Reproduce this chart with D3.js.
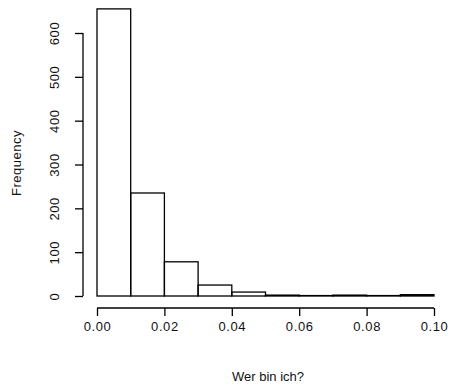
<!DOCTYPE html>
<html>
<head>
<meta charset="utf-8">
<script src="https://cdn.jsdelivr.net/npm/d3@7"></script>
<style>
  body { margin: 0; background: #fff; }
  text { font-family: "Liberation Sans", Arial, sans-serif; fill: #111; }
</style>
</head>
<body>
<div id="chart"></div>
<script>
// histogram bins (width 0.01) and counts
const binStarts = [0.00, 0.01, 0.02, 0.03, 0.04, 0.05, 0.06, 0.07, 0.08, 0.09];
const binWidth = 0.01;
const counts = [655, 235, 78, 25, 9, 2, 1, 2, 1, 3];
const xTicks = [0.00, 0.02, 0.04, 0.06, 0.08, 0.10];
const yTicks = [0, 100, 200, 300, 400, 500, 600];

const W = 454, H = 388;
const svg = d3.select("#chart").append("svg")
    .attr("width", W)
    .attr("height", H);

const x = d3.scaleLinear().domain([0, 0.1]).range([97, 434]);
const y = d3.scaleLinear().domain([0, 600]).range([296, 33]);

// bars
svg.selectAll(".bar")
   .data(binStarts.map((s, i) => ({ x0: s, x1: s + binWidth, n: counts[i] })))
   .enter().append("rect")
   .attr("class", "bar")
   .attr("x", d => x(d.x0))
   .attr("y", d => y(d.n))
   .attr("width", d => x(d.x1) - x(d.x0))
   .attr("height", d => y(0) - y(d.n))
   .attr("fill", "none")
   .attr("stroke", "#000")
   .attr("stroke-width", 1.3);

// x axis (R style: detached below the plot)
const xAxis = svg.append("g")
   .attr("transform", "translate(0,308)")
   .call(d3.axisBottom(x).tickValues(xTicks).tickSize(8).tickPadding(6)
         .tickFormat(d3.format(".2f")));
xAxis.select(".domain").attr("d", `M${x(0)},0H${x(0.1)}`).attr("stroke-width", 1.3);
xAxis.selectAll(".tick line").attr("stroke-width", 1.3);
xAxis.selectAll("text")
   .style("font-size", "13px")
   .style("letter-spacing", "0.6px")
   .attr("font-family", null);

// y axis with rotated tick labels
const yAxis = svg.append("g")
   .attr("transform", "translate(83,0)")
   .call(d3.axisLeft(y).tickValues(yTicks).tickSize(8).tickFormat(d3.format("d")));
yAxis.select(".domain").attr("d", `M0,${y(0)}V${y(600)}`).attr("stroke-width", 1.3);
yAxis.selectAll(".tick line").attr("stroke-width", 1.3);
yAxis.selectAll("text")
   .attr("x", null).attr("dy", null)
   .attr("transform", "translate(-24,0) rotate(-90)")
   .attr("text-anchor", "middle")
   .style("font-size", "13px")
   .style("letter-spacing", "0.6px")
   .attr("font-family", null);

// axis titles
svg.append("text")
   .attr("x", 268)
   .attr("y", 381)
   .attr("text-anchor", "middle")
   .style("font-size", "13px")
   .text("Wer bin ich?");

svg.append("text")
   .attr("transform", "translate(21,163) rotate(-90)")
   .attr("text-anchor", "middle")
   .style("font-size", "13px")
   .style("letter-spacing", "0.5px")
   .text("Frequency");
</script>
</body>
</html>
